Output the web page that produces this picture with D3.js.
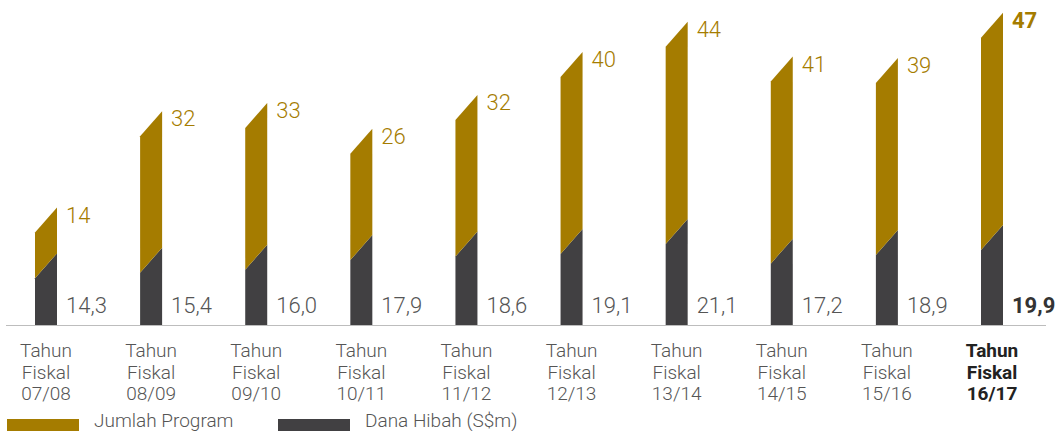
<!DOCTYPE html>
<html>
<head>
<meta charset="utf-8">
<script src="https://cdn.jsdelivr.net/npm/d3@7"></script>
<style>
  body { margin: 0; background: #fff; }
  svg { display: block; font-family: Roboto, "Open Sans", sans-serif; }
</style>
</head>
<body>
<div id="container"></div>
<script>
// data
const years = ["07/08", "08/09", "09/10", "10/11", "11/12", "12/13", "13/14", "14/15", "15/16", "16/17"];
const jumlahProgram = [14, 32, 33, 26, 32, 40, 44, 41, 39, 47];
const danaHibah = [14.3, 15.4, 16.0, 17.9, 18.6, 19.1, 21.1, 17.2, 18.9, 19.9];
const legendNames = ["Jumlah Program", "Dana Hibah (S$m)"];

const width = 1059, height = 431;
const gold = "#a57c00", dark = "#414042";
const baseY = 325.5;
const slant = 25;   // px drop of the cut top from right edge to left edge
const barW = 22;

const svg = d3.select("#container")
  .append("svg")
  .attr("width", width)
  .attr("height", height);

const x = d3.scalePoint()
  .domain(years)
  .range([46, 992]);

const y = d3.scaleLinear()
  .domain([0, 60])
  .range([baseY, baseY - 303]);

const fmt = d3.formatLocale({ decimal: ",", thousands: ".", grouping: [3], currency: ["", ""] }).format(".1f");

const data = years.map((yr, i) => ({
  yr, prog: jumlahProgram[i], hibah: danaHibah[i], last: i === years.length - 1
}));

// bars
const bars = svg.append("g")
  .selectAll("g")
  .data(data)
  .join("g");

bars.append("path")
  .attr("fill", dark)
  .attr("d", d => {
    const xl = x(d.yr) - barW / 2, xr = x(d.yr) + barW / 2;
    const yg = y(d.hibah);
    return `M${xl},${baseY}L${xl},${yg + slant}L${xr},${yg}L${xr},${baseY}Z`;
  });

bars.append("path")
  .attr("fill", gold)
  .attr("d", d => {
    const xl = x(d.yr) - barW / 2, xr = x(d.yr) + barW / 2;
    const yg = y(d.hibah);
    const yt = y(d.hibah + d.prog) + slant;
    return `M${xl},${yg + slant}L${xl},${yt + slant}L${xr},${yt}L${xr},${yg}Z`;
  });

// axis line
svg.append("line")
  .attr("x1", 6).attr("x2", 1046)
  .attr("y1", baseY).attr("y2", baseY)
  .attr("stroke", "#bdbdbd")
  .attr("stroke-width", 1);

// value labels
bars.append("text")
  .attr("x", d => x(d.yr) + barW / 2 + 9)
  .attr("y", d => y(d.hibah + d.prog) + slant + 15)
  .attr("fill", gold)
  .style("font-size", "22px")
  .style("font-weight", d => d.last ? 700 : 300)
  .text(d => d.prog);

bars.append("text")
  .attr("x", d => x(d.yr) + barW / 2 + 9)
  .attr("y", baseY - 12.5)
  .attr("fill", d => d.last ? "#333" : "#555")
  .style("font-size", "22px")
  .style("font-weight", d => d.last ? 700 : 300)
  .text(d => fmt(d.hibah));

// category labels
const cat = bars.append("text")
  .attr("text-anchor", "middle")
  .attr("fill", d => d.last ? "#222" : "#555")
  .style("font-size", "19px")
  .style("font-weight", d => d.last ? 700 : 300);

cat.selectAll("tspan")
  .data(d => ["Tahun", "Fiskal", d.yr].map(t => ({ t, xc: x(d.yr) })))
  .join("tspan")
  .attr("x", d => d.xc)
  .attr("y", (d, i) => 357 + i * 21.5)
  .text(d => d.t);

// legend
const legend = svg.append("g");
const legendItems = [
  { name: legendNames[0], color: gold, x: 7 },
  { name: legendNames[1], color: dark, x: 278 }
];
legendItems.forEach(d => {
  legend.append("rect")
    .attr("x", d.x).attr("y", 419)
    .attr("width", 72).attr("height", 14)
    .attr("fill", d.color);
  legend.append("text")
    .attr("x", d.x + 87).attr("y", 427)
    .attr("fill", "#555")
    .style("font-size", "19px")
    .style("font-weight", 300)
    .text(d.name);
});
</script>
</body>
</html>
